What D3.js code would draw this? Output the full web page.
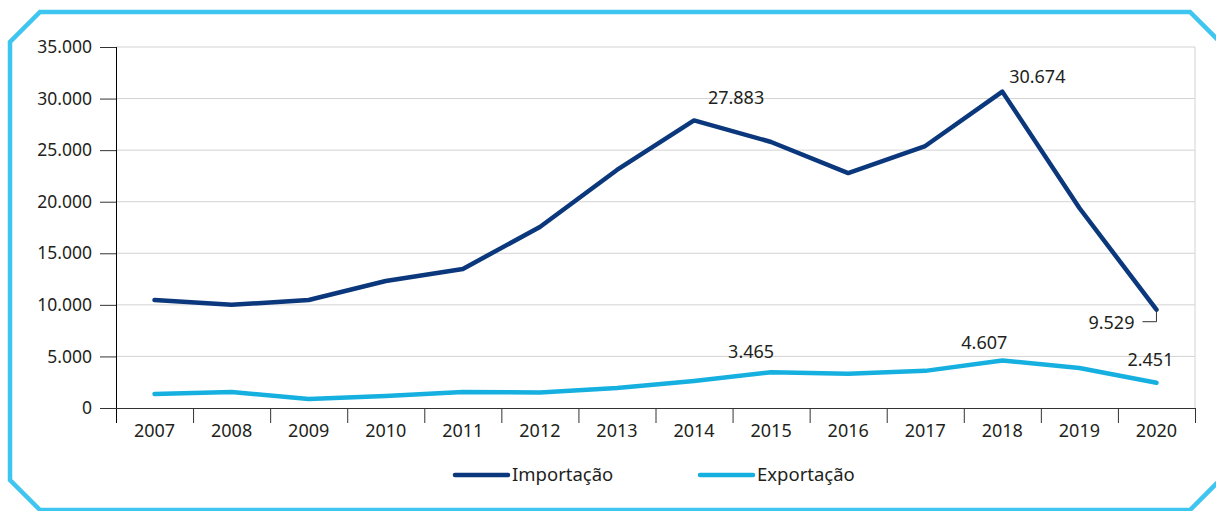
<!DOCTYPE html>
<html>
<head>
<meta charset="utf-8">
<script src="https://cdn.jsdelivr.net/npm/d3@7"></script>
<style>
  body { margin: 0; background: #fff; }
  svg text { font-family: "Noto Sans", "Open Sans", sans-serif; fill: #231f20; }
</style>
</head>
<body>
<svg id="chart" width="1216" height="511"></svg>
<script>
const years = ["2007","2008","2009","2010","2011","2012","2013","2014","2015","2016","2017","2018","2019","2020"];
const importacao = [10470, 10000, 10470, 12310, 13480, 17550, 23080, 27883, 25790, 22780, 25400, 30674, 19390, 9529];
const exportacao = [1360, 1550, 870, 1160, 1550, 1500, 1940, 2620, 3465, 3330, 3600, 4607, 3880, 2451];
const yTicks = [0, 5000, 10000, 15000, 20000, 25000, 30000, 35000];
const seriesNames = ["Importação", "Exportação"];
const seriesColors = ["#0b387c", "#15b0df"];

const fmt = v => d3.format(",")(v).replace(/,/g, ".");
const margin = {top: 47, right: 21, bottom: 103, left: 116};
const width = 1216 - margin.left - margin.right;
const height = 511 - margin.top - margin.bottom;

const svg = d3.select("#chart");

// octagonal frame
const frame = [[40,12],[1190,12],[1220,42],[1220,480],[1190,510],[40,510],[10,480],[10,42]];
svg.append("path")
    .attr("d", d3.line()(frame) + "Z")
    .attr("fill", "none")
    .attr("stroke", "#3fc6f0")
    .attr("stroke-width", 4.5);

const g = svg.append("g").attr("transform", "translate(" + margin.left + "," + margin.top + ")");

const x = d3.scaleBand().domain(years).range([0, width]);
const y = d3.scaleLinear().domain([0, 35000]).range([height, 0]);
const cx = d => x(d) + x.bandwidth() / 2;

// grid
g.append("g").selectAll("line").data(yTicks.slice(1)).join("line")
    .attr("x1", 0).attr("x2", width)
    .attr("y1", d => y(d)).attr("y2", d => y(d))
    .attr("stroke", "#d3d3d3");
g.append("line").attr("x1", width).attr("x2", width).attr("y1", 0).attr("y2", height)
    .attr("stroke", "#d3d3d3");

// y axis
const yAxis = g.append("g")
    .call(d3.axisLeft(y).tickValues(yTicks).tickFormat(fmt).tickSize(16).tickPadding(8));
yAxis.select(".domain").attr("d", "M0.5,0V" + (height + 15));
yAxis.selectAll("text").attr("font-size", 17.5).attr("fill", "#231f20");

// x axis
const xAxis = g.append("g").attr("transform", "translate(0," + height + ")")
    .call(d3.axisBottom(x).tickSize(0).tickPadding(16));
xAxis.select(".domain").remove();
xAxis.selectAll("text").attr("font-size", 18).attr("fill", "#231f20");
g.append("line").attr("x1", 0).attr("x2", width).attr("y1", height + 0.5).attr("y2", height + 0.5)
    .attr("stroke", "#333");
g.append("g").selectAll("line").data(years).join("line")
    .attr("x1", d => x(d) + x.bandwidth() + 0.5).attr("x2", d => x(d) + x.bandwidth() + 0.5)
    .attr("y1", height).attr("y2", height + 15)
    .attr("stroke", "#333");
svg.selectAll(".tick line").attr("stroke", "#333");

// lines
const line = d3.line().x((d, i) => cx(years[i])).y(d => y(d));
[importacao, exportacao].forEach((s, k) => {
  g.append("path").datum(s)
    .attr("d", line)
    .attr("fill", "none")
    .attr("stroke", seriesColors[k])
    .attr("stroke-width", 4.5)
    .attr("stroke-linejoin", "round")
    .attr("stroke-linecap", "round");
});

// value labels
const labels = [
  {s: importacao, i: 7, dx: 42, dy: -16},
  {s: importacao, i: 11, dx: 35, dy: -9},
  {s: exportacao, i: 8, dx: -20, dy: -14},
  {s: exportacao, i: 11, dx: -18, dy: -11},
  {s: exportacao, i: 13, dx: -6, dy: -17}
];
labels.forEach(l => {
  g.append("text")
    .attr("x", cx(years[l.i]) + l.dx)
    .attr("y", y(l.s[l.i]) + l.dy)
    .attr("text-anchor", "middle")
    .attr("font-size", 18)
    .text(fmt(l.s[l.i]));
});

// 2020 import label with leader
const px = cx(years[13]), py = y(importacao[13]);
g.append("path")
    .attr("d", "M" + px + "," + py + "V" + (py + 12) + "H" + (px - 14))
    .attr("fill", "none").attr("stroke", "#333").attr("stroke-width", 1);
g.append("text")
    .attr("x", px - 22).attr("y", py + 19)
    .attr("text-anchor", "end").attr("font-size", 18)
    .text(fmt(importacao[13]));

// legend
const legendX = [453, 698];
seriesNames.forEach((n, k) => {
  const lg = svg.append("g").attr("transform", "translate(" + legendX[k] + ",475)");
  lg.append("line").attr("x1", 2).attr("x2", 55).attr("y1", 0).attr("y2", 0)
    .attr("stroke", seriesColors[k]).attr("stroke-width", 4.5).attr("stroke-linecap", "round");
  lg.append("text").attr("x", 59).attr("y", 6).attr("font-size", 18.5).text(n);
});
</script>
</body>
</html>
